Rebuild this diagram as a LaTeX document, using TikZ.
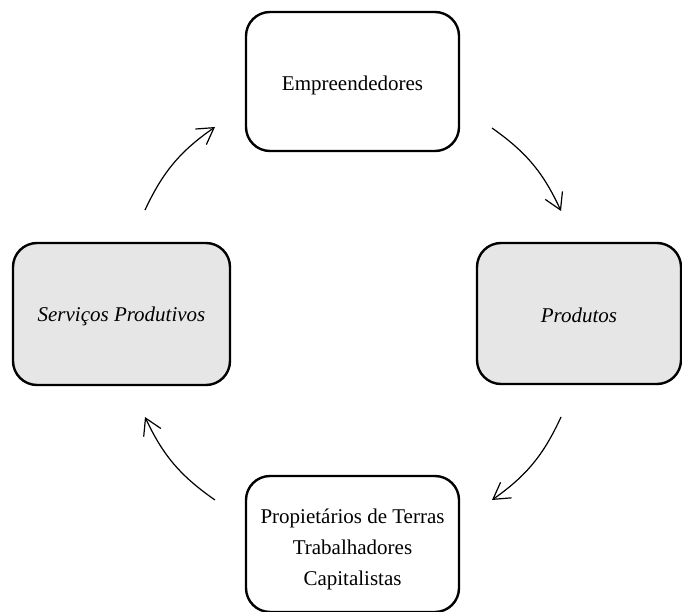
\documentclass[tikz,border=0pt]{standalone}
\usepackage{fontspec}
\setmainfont{Liberation Serif}
\usetikzlibrary{arrows.meta}
\definecolor{boxgray}{HTML}{E6E6E6}
\tikzset{
  boxbase/.style={draw=black, line width=2.4pt, rounded corners=24pt, align=center,
    font=\fontsize{21}{31}\selectfont, inner sep=0pt},
  whitebox/.style={boxbase, fill=white},
  graybox/.style={boxbase, fill=boxgray, font=\fontsize{21}{31}\selectfont\itshape},
  cyc/.style={line width=1.2pt, -{Straight Barb[length=16pt,width=19pt]}, bend left=15}
}
\begin{document}
\begin{tikzpicture}[x=1pt,y=-1pt]
\useasboundingbox (0,0) rectangle (682,612);
\node[whitebox, minimum width=213pt, minimum height=139pt, text height=22.3pt, text depth=4.6pt] (emp) at (352.5,81.5) {Empreendedores};
\node[whitebox, minimum width=213pt, minimum height=136pt] (prop) at (352.5,544) {\rule{0pt}{26.3pt}Propietários de Terras\\Trabalhadores\\Capitalistas};
\node[graybox, minimum width=217pt, minimum height=142pt, text height=20.3pt, text depth=4.6pt] (serv) at (121.5,314) {Serviços Produtivos};
\node[graybox, minimum width=204pt, minimum height=141pt, text height=18.3pt, text depth=0.2pt] (prod) at (579,313.5) {Produtos};
\coordinate (a1s) at (145,210);
\coordinate (a1e) at (215,127);
\coordinate (a2s) at (492,128);
\coordinate (a2e) at (561,211);
\coordinate (a3s) at (561,417);
\coordinate (a3e) at (492,500);
\coordinate (a4s) at (215,500);
\coordinate (a4e) at (145,417);
\draw[cyc] (a1s) to (a1e);
\draw[cyc] (a2s) to (a2e);
\draw[cyc] (a3s) to (a3e);
\draw[cyc] (a4s) to (a4e);
\end{tikzpicture}
\end{document}
